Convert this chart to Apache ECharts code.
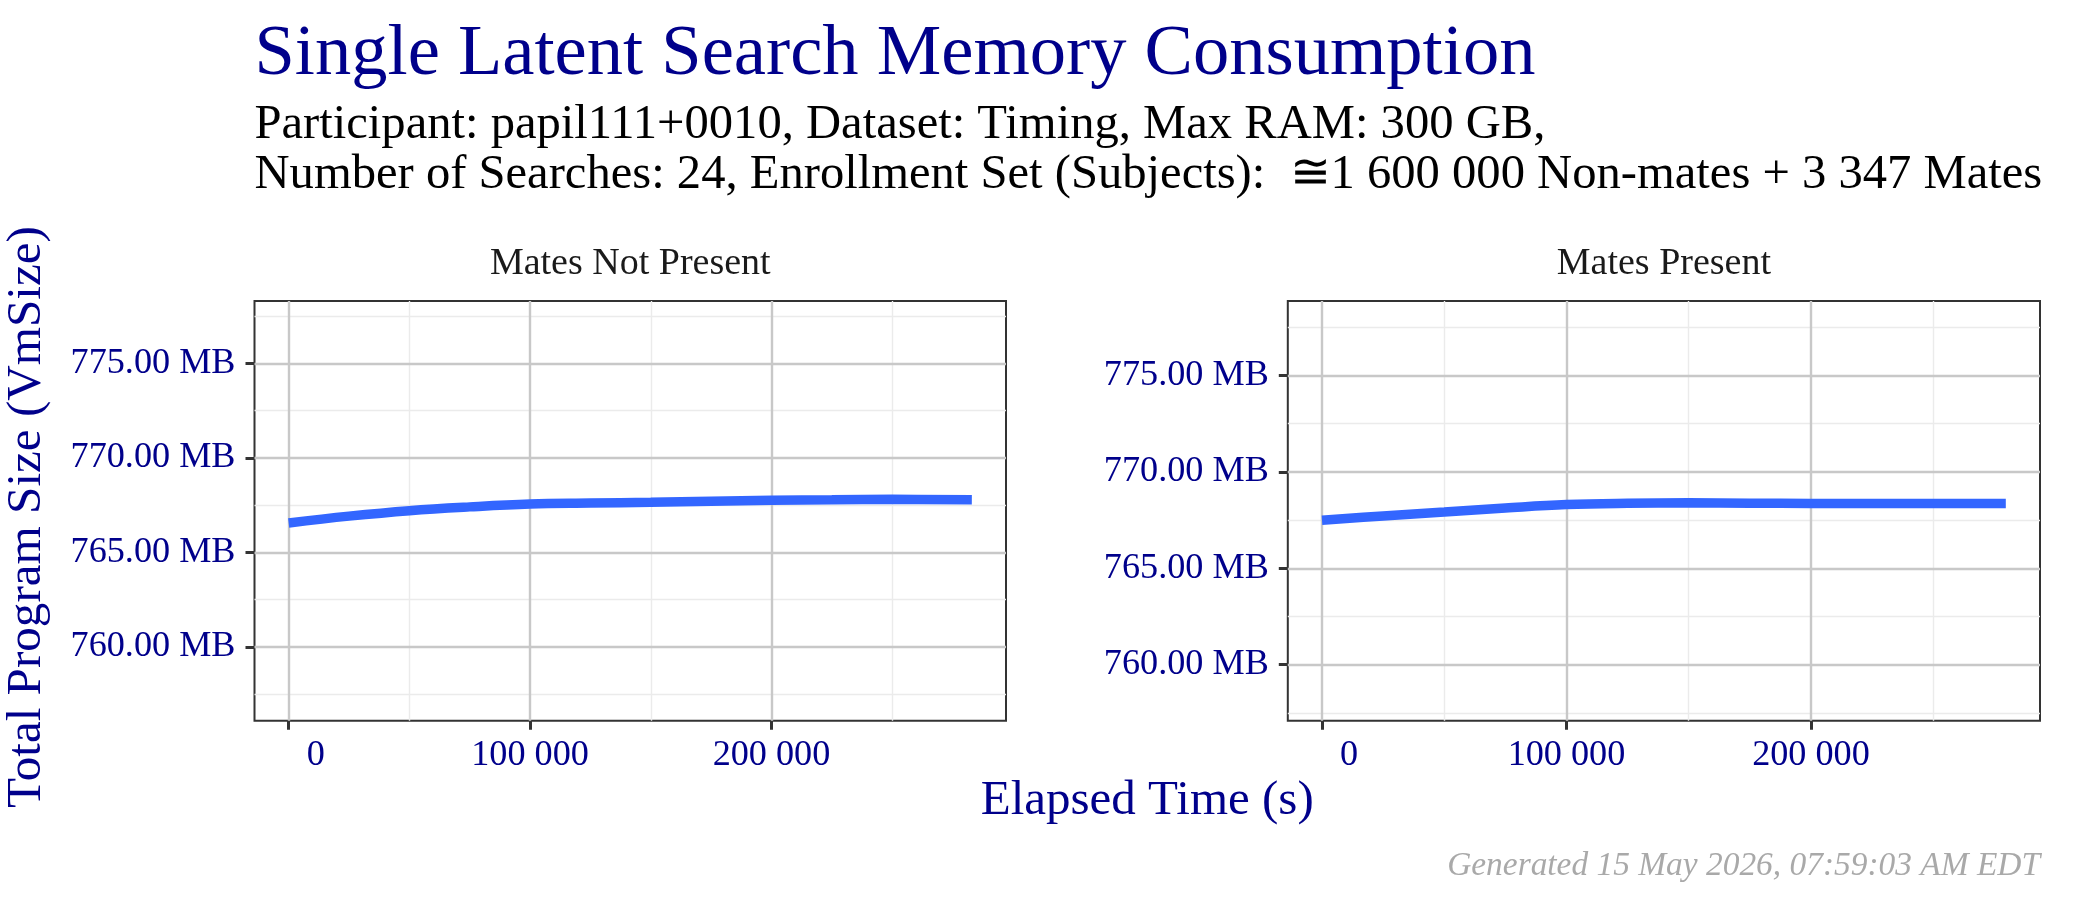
<!DOCTYPE html>
<html><head><meta charset="utf-8">
<script src="https://cdn.jsdelivr.net/npm/echarts@6/dist/echarts.min.js"></script>
<style>html,body{margin:0;padding:0;background:#fff}#c{width:2100px;height:900px}</style>
</head><body><div id="c"></div>
<script>
// ---------- data ----------
const panelNames = ['Mates Not Present', 'Mates Present'];
const timeNotPresent = [0, 25000, 50000, 75000, 100000, 125000, 150000, 175000, 200000, 225000, 250000, 283000];
const memNotPresent  = [766.56, 766.92, 767.21, 767.41, 767.56, 767.61, 767.65, 767.71, 767.76, 767.79, 767.81, 767.79];
const timePresent = [0, 25000, 50000, 75000, 100000, 125000, 150000, 175000, 200000, 225000, 250000, 279700];
const memPresent  = [767.49, 767.71, 767.91, 768.12, 768.30, 768.37, 768.39, 768.37, 768.36, 768.36, 768.36, 768.36];
const yTicks = [760, 765, 770, 775];
const yMinor = [757.5, 762.5, 767.5, 772.5, 777.5];
const xTicks = [0, 100000, 200000];
const xMinor = [50000, 150000, 250000];
const yRanges = [[756.1, 778.3], [757.1, 778.85]];
const xRanges = [[-14150, 297150], [-13985, 293685]];
const titleText = 'Single Latent Search Memory Consumption';
const subtitleLines = ['Participant: papil111+0010, Dataset: Timing, Max RAM: 300 GB,',
  'Number of Searches: 24, Enrollment Set (Subjects):  \u22451 600 000 Non-mates + 3 347 Mates'];
const xTitle = 'Elapsed Time (s)';
const yTitle = 'Total Program Size (VmSize)';
const footer = 'Generated 15 May 2026, 07:59:03 AM EDT';

// ---------- style helpers ----------
const FAM = "'Liberation Serif', 'DejaVu Serif', serif";
const NAVY = '#00008B';
const ctx = document.createElement('canvas').getContext('2d');
function measure(text, size, style) { ctx.font = (style || '') + ' ' + size + 'px ' + FAM; return ctx.measureText(text).width; }
function fit(text, target, style) { return 100 * target / measure(text, 100, style); }

const titleSize = fit(titleText, 1281);
const subSize = fit(subtitleLines[0], 1291);
const stripSize = Math.min(fit(panelNames[0], 295), 38);
const xTitleSize = fit(xTitle, 333);
const yTitleSize = fit(yTitle, 582);
const footSize = fit(footer, 593, 'italic');
const tickSize = fit('775.00 MB', 165);
// R-style format(): thousands separated by a space, padded to common width
const fmtX = v => String(v).replace(/\B(?=(\d{3})+(?!\d))/g, ' ').padStart(7, ' ');

const grids = [
  {left: 254.5, top: 301, width: 751.5, height: 419.7},
  {left: 1287.8, top: 301, width: 752.2, height: 419.7}
];
const mid = (baseline, size) => baseline - 0.33 * size;

const series = [];
const xAxes = [], yAxes = [];
const datasets = [[timeNotPresent, memNotPresent], [timePresent, memPresent]];
for (let i = 0; i < 2; i++) {
  xAxes.push({
    gridIndex: i, type: 'value', min: xRanges[i][0], max: xRanges[i][1],
    axisLine: {show: false, onZero: false}, splitLine: {show: false},
    axisTick: {show: true, customValues: xTicks, length: 9, lineStyle: {color: '#333', width: 3}},
    axisLabel: {
      customValues: xTicks, margin: 17, color: NAVY, fontFamily: FAM, fontSize: tickSize,
      formatter: v => fmtX(v)
    }
  });
  yAxes.push({
    gridIndex: i, type: 'value', min: yRanges[i][0], max: yRanges[i][1],
    axisLine: {show: false, onZero: false}, splitLine: {show: false},
    axisTick: {show: true, customValues: yTicks, length: 9, lineStyle: {color: '#333', width: 3}},
    axisLabel: {customValues: yTicks, margin: 19, color: NAVY, fontFamily: FAM, fontSize: tickSize,
      formatter: v => v.toFixed(2) + ' MB'}
  });
  const pts = datasets[i][0].map((t, k) => [t, datasets[i][1][k]]);
  const major = {color: '#c8c8c8', width: 2.4, type: 'solid'};
  const minor = {color: '#ebebeb', width: 1.4, type: 'solid'};
  const ml = [];
  yMinor.forEach(v => ml.push({yAxis: v, lineStyle: minor}));
  xMinor.forEach(v => ml.push({xAxis: v, lineStyle: minor}));
  yTicks.forEach(v => ml.push({yAxis: v, lineStyle: major}));
  xTicks.forEach(v => ml.push({xAxis: v, lineStyle: major}));
  series.push({
    type: 'line', xAxisIndex: i, yAxisIndex: i, data: pts, z: 1, silent: true,
    showSymbol: false, lineStyle: {opacity: 0, width: 0},
    markLine: {silent: true, symbol: ['none', 'none'], label: {show: false}, animation: false,
      emphasis: {disabled: true}, data: ml}
  });
  series.push({
    type: 'line', xAxisIndex: i, yAxisIndex: i, data: pts, z: 5,
    smooth: 0.4, showSymbol: false, lineStyle: {color: '#3366FF', width: 9.5, cap: 'butt'}
  });
}

const graphic = [
  {type: 'text', x: 254.5, y: mid(79, titleSize), style: {text: titleText, font: titleSize + 'px ' + FAM, fill: NAVY, textAlign: 'left', textVerticalAlign: 'middle'}},
  {type: 'text', x: 254.5, y: mid(141.5, subSize), style: {text: subtitleLines[0], font: subSize + 'px ' + FAM, fill: '#000', textAlign: 'left', textVerticalAlign: 'middle'}},
  {type: 'text', x: 254.5, y: mid(191.7, subSize), style: {text: subtitleLines[1], font: subSize + 'px ' + FAM, fill: '#000', textAlign: 'left', textVerticalAlign: 'middle'}},
  {type: 'text', x: grids[0].left + grids[0].width / 2, y: mid(276.8, stripSize), style: {text: panelNames[0], font: stripSize + 'px ' + FAM, fill: '#1a1a1a', textAlign: 'center', textVerticalAlign: 'middle'}},
  {type: 'text', x: grids[1].left + grids[1].width / 2, y: mid(276.8, stripSize), style: {text: panelNames[1], font: stripSize + 'px ' + FAM, fill: '#1a1a1a', textAlign: 'center', textVerticalAlign: 'middle'}},
  {type: 'text', x: (grids[0].left + grids[1].left + grids[1].width) / 2, y: mid(817, xTitleSize), style: {text: xTitle, font: xTitleSize + 'px ' + FAM, fill: NAVY, textAlign: 'center', textVerticalAlign: 'middle'}},
  {type: 'text', x: 43 - 0.33 * yTitleSize, y: 517, rotation: Math.PI / 2, style: {text: yTitle, font: yTitleSize + 'px ' + FAM, fill: NAVY, textAlign: 'center', textVerticalAlign: 'middle'}},
  {type: 'text', x: 2040, y: mid(877, footSize), style: {text: footer, font: 'italic ' + footSize + 'px ' + FAM, fill: '#A9A9A9', textAlign: 'right', textVerticalAlign: 'middle'}}
];

const chart = echarts.init(document.getElementById('c'), null, {renderer: 'canvas'});
chart.setOption({
  animation: false,
  backgroundColor: '#fff',
  grid: grids.map(g => Object.assign({show: true, borderColor: '#333', borderWidth: 2, backgroundColor: '#fff', containLabel: false}, g)),
  xAxis: xAxes, yAxis: yAxes, series: series, graphic: graphic
});
</script></body></html>
